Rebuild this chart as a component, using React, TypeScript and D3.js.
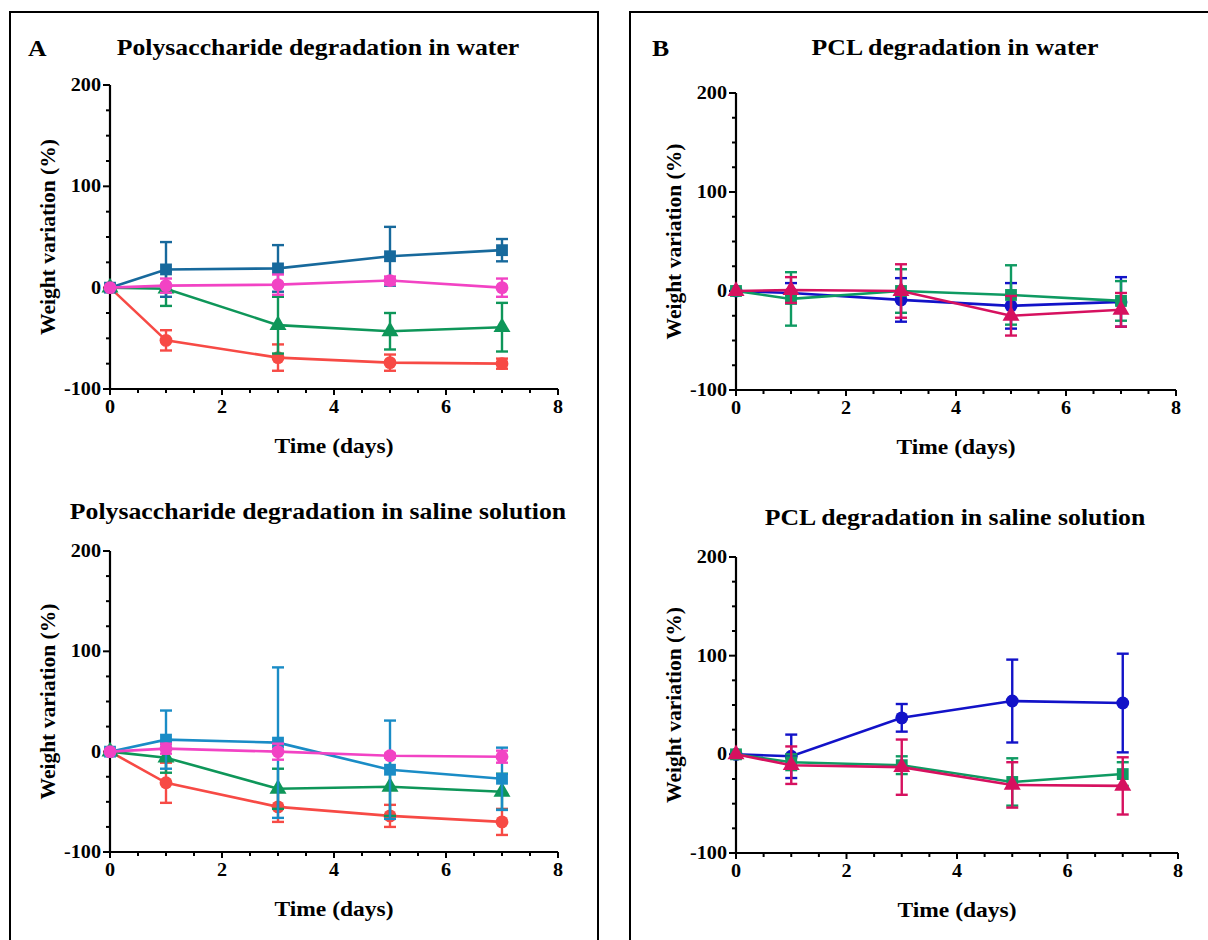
import React from 'react';
import * as d3 from 'd3';

// sampling days shared by every panel
const days = [0, 1, 3, 5, 7];
const xTicks = [0, 2, 4, 6, 8];
const yTicks = [-100, 0, 100, 200];

// A - polysaccharide in water
const aWaterSquare = [0, 18, 19, 31, 37];
const aWaterSquareErr = [0, 27, 23, 29, 11];
const aWaterPink = [0, 2, 3, 7, 0];
const aWaterPinkErr = [0, 7, 10, 4, 9];
const aWaterTriangle = [0, -1, -37, -43, -39];
const aWaterTriangleErr = [0, 17, 28, 18, 24];
const aWaterRed = [0, -52, -69, -74, -75];
const aWaterRedErr = [0, 10, 13, 8, 5];

// A - polysaccharide in saline solution
const aSalineSquare = [0, 12, 9, -18, -27];
const aSalineSquareErr = [0, 29, 75, 49, 31];
const aSalinePink = [0, 3, 0, -4, -5];
const aSalinePinkErr = [0, 5, 8, 2, 6];
const aSalineTriangle = [0, -6, -37, -35, -40];
const aSalineTriangleErr = [0, 15, 20, 29, 18];
const aSalineRed = [0, -31, -55, -64, -70];
const aSalineRedErr = [0, 20, 15, 11, 13];

// B - PCL in water
const bWaterCircle = [0, -2, -9, -15, -11];
const bWaterCircleErr = [0, 10, 22, 23, 25];
const bWaterSquare = [0, -8, 0, -4, -10];
const bWaterSquareErr = [0, 27, 22, 30, 20];
const bWaterTriangle = [0, 1, 0, -25, -19];
const bWaterTriangleErr = [0, 13, 27, 20, 17];

// B - PCL in saline solution
const bSalineCircle = [0, -2, 37, 54, 52];
const bSalineCircleErr = [0, 22, 14, 42, 50];
const bSalineSquare = [0, -8, -11, -28, -20];
const bSalineSquareErr = [0, 8, 9, 24, 12];
const bSalineTriangle = [0, -11, -13, -31, -32];
const bSalineTriangleErr = [0, 19, 28, 23, 29];

type Series = { values: number[]; err: number[]; color: string; shape: d3.SymbolType; size: number };

interface PanelDef {
  title: string;
  titleX: number;
  titleY: number;
  x0: number;
  x1: number;
  yTop: number;
  yBot: number;
  series: Series[];
}

const FONT = '"Liberation Serif", "Times New Roman", serif';
// the source figure is a little stretched sideways
const SX = 1.12;

const sq = (values: number[], err: number[], color: string): Series => ({ values, err, color, shape: d3.symbolSquare, size: 140 });
const ci = (values: number[], err: number[], color: string): Series => ({ values, err, color, shape: d3.symbolCircle, size: 130 });
const tr = (values: number[], err: number[], color: string): Series => ({ values, err, color, shape: d3.symbolTriangle, size: 125 });

const panels: PanelDef[] = [
  {
    title: 'Polysaccharide degradation in water', titleX: 318, titleY: 55,
    x0: 110, x1: 558, yTop: 85, yBot: 389,
    series: [
      ci(aWaterRed, aWaterRedErr, '#f74a45'),
      tr(aWaterTriangle, aWaterTriangleErr, '#0e9659'),
      sq(aWaterSquare, aWaterSquareErr, '#17699c'),
      ci(aWaterPink, aWaterPinkErr, '#f243c4'),
    ],
  },
  {
    title: 'Polysaccharide degradation in saline solution', titleX: 318, titleY: 519,
    x0: 110, x1: 558, yTop: 551, yBot: 852,
    series: [
      ci(aSalineRed, aSalineRedErr, '#f74a45'),
      tr(aSalineTriangle, aSalineTriangleErr, '#0e9659'),
      sq(aSalineSquare, aSalineSquareErr, '#1a8cc6'),
      ci(aSalinePink, aSalinePinkErr, '#f243c4'),
    ],
  },
  {
    title: 'PCL degradation in water', titleX: 955, titleY: 55,
    x0: 736, x1: 1176, yTop: 93, yBot: 390,
    series: [
      ci(bWaterCircle, bWaterCircleErr, '#1212c8'),
      sq(bWaterSquare, bWaterSquareErr, '#0f9a62'),
      tr(bWaterTriangle, bWaterTriangleErr, '#d6115f'),
    ],
  },
  {
    title: 'PCL degradation in saline solution', titleX: 955, titleY: 525,
    x0: 736, x1: 1178, yTop: 557, yBot: 853,
    series: [
      ci(bSalineCircle, bSalineCircleErr, '#1212c8'),
      sq(bSalineSquare, bSalineSquareErr, '#0f9a62'),
      tr(bSalineTriangle, bSalineTriangleErr, '#d6115f'),
    ],
  },
];

const HText: React.FC<{ x: number; y: number; size: number; anchor?: string; children: React.ReactNode }> = ({ x, y, size, anchor = 'middle', children }) => (
  <text transform={`translate(${x},${y}) scale(${SX},1)`} textAnchor={anchor} fontSize={size} fontWeight="bold" fontFamily={FONT}>
    {children}
  </text>
);

const Panel: React.FC<{ p: PanelDef }> = ({ p }) => {
  const x = d3.scaleLinear().domain([0, 8]).range([p.x0, p.x1]);
  const y = d3.scaleLinear().domain([-100, 200]).range([p.yBot, p.yTop]);
  const line = d3.line<number>().x((_, i) => x(days[i])).y(v => y(v));
  const minorY = d3.range(-100, 201, 25).filter(v => v % 100 !== 0);
  const minorX = d3.range(0, 8.01, 0.5).filter(v => v % 2 !== 0);
  const midY = (p.yTop + p.yBot) / 2;

  return (
    <g>
      <HText x={p.titleX} y={p.titleY} size={23}>{p.title}</HText>
      {/* axes */}
      <line x1={p.x0} x2={p.x0} y1={p.yTop} y2={p.yBot} stroke="#000" strokeWidth={2.2} />
      <line x1={p.x0} x2={p.x1} y1={p.yBot} y2={p.yBot} stroke="#000" strokeWidth={2.2} />
      {yTicks.map(t => (
        <g key={'y' + t}>
          <line x1={p.x0 - 7} x2={p.x0} y1={y(t)} y2={y(t)} stroke="#000" strokeWidth={2} />
          <HText x={p.x0 - 9} y={y(t) + 6} size={18} anchor="end">{t}</HText>
        </g>
      ))}
      {minorY.map(t => (
        <line key={'my' + t} x1={p.x0 - 4} x2={p.x0} y1={y(t)} y2={y(t)} stroke="#000" strokeWidth={2} />
      ))}
      {xTicks.map(t => (
        <g key={'x' + t}>
          <line x1={x(t)} x2={x(t)} y1={p.yBot} y2={p.yBot + 6} stroke="#000" strokeWidth={2} />
          <HText x={x(t)} y={p.yBot + 24} size={18}>{t}</HText>
        </g>
      ))}
      {minorX.map(t => (
        <line key={'mx' + t} x1={x(t)} x2={x(t)} y1={p.yBot} y2={p.yBot + 4} stroke="#000" strokeWidth={2} />
      ))}
      <HText x={(p.x0 + p.x1) / 2} y={p.yBot + 64} size={21}>Time (days)</HText>
      <text transform={`translate(${p.x0 - 55},${midY}) rotate(-90)`} textAnchor="middle" fontSize={21.5} fontWeight="bold" fontFamily={FONT}>
        Weight variation (%)
      </text>
      {/* series */}
      {p.series.map((s, si) => (
        <g key={si}>
          <path d={line(s.values) || ''} fill="none" stroke={s.color} strokeWidth={2.6} />
          {s.values.map((v, i) => s.err[i] > 0 && (
            <g key={i} stroke={s.color} strokeWidth={2.4}>
              <line x1={x(days[i])} x2={x(days[i])} y1={y(v + s.err[i])} y2={y(v - s.err[i])} />
              <line x1={x(days[i]) - 6} x2={x(days[i]) + 6} y1={y(v + s.err[i])} y2={y(v + s.err[i])} />
              <line x1={x(days[i]) - 6} x2={x(days[i]) + 6} y1={y(v - s.err[i])} y2={y(v - s.err[i])} />
            </g>
          ))}
          {s.values.map((v, i) => (
            <path key={'m' + i} transform={`translate(${x(days[i])},${y(v)})`}
              d={d3.symbol().type(s.shape).size(s.size)() || ''} fill={s.color} />
          ))}
        </g>
      ))}
    </g>
  );
};

export default function App() {
  return (
    <svg width={1208} height={940} style={{ position: 'absolute', left: 0, top: 0, background: '#fff' }}>
      <rect x={0} y={0} width={1208} height={940} fill="#fff" />
      <rect x={10} y={12} width={588} height={960} fill="none" stroke="#000" strokeWidth={2} />
      <rect x={630} y={12} width={600} height={960} fill="none" stroke="#000" strokeWidth={2} />
      <HText x={28} y={56} size={23} anchor="start">A</HText>
      <HText x={652} y={56} size={23} anchor="start">B</HText>
      {panels.map((p, i) => <Panel key={i} p={p} />)}
    </svg>
  );
}
